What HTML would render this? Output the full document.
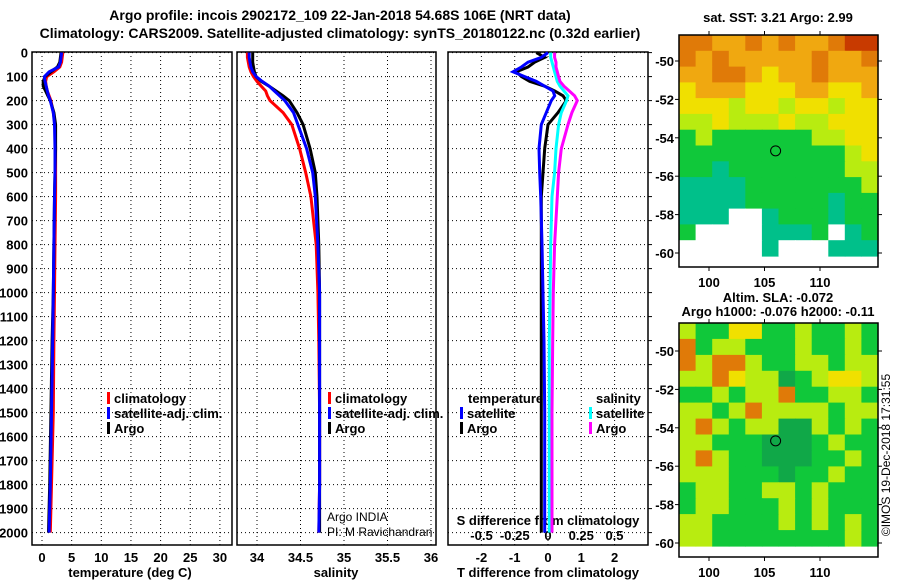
<!DOCTYPE html>
<html><head><meta charset="utf-8"><style>
body{margin:0;background:#fff;}
svg{display:block;font-family:"Liberation Sans",sans-serif;}
.b{font-weight:bold;font-size:13px;}
.t{font-weight:bold;font-size:14px;}
.n{font-weight:normal;font-size:12px;}
</style></head><body>
<svg id="c" width="900" height="580" xmlns="http://www.w3.org/2000/svg"></svg>
<script>
const depths=[0,20,40,60,80,100,120,140,160,180,200,250,300,400,500,600,800,1000,1200,1500,1800,2000];
const argoT=[3.2,3.1,3.0,2.6,1.5,0.5,0.2,0.2,0.6,1.0,1.4,2.0,2.3,2.3,2.2,2.1,2.0,1.9,1.7,1.5,1.3,1.1];
const climT=[3.5,3.4,3.3,3.0,2.0,0.8,0.6,0.7,0.9,1.2,1.5,1.9,2.2,2.3,2.3,2.3,2.2,2.1,2.0,1.9,1.6,1.4];
const satT=[3.3,3.2,3.1,2.8,1.2,0.4,0.5,0.7,0.9,1.1,1.4,1.9,2.1,2.2,2.2,2.1,2.0,1.9,1.8,1.6,1.4,1.2];
const argoS=[33.95,33.95,33.95,33.96,33.97,33.99,34.05,34.14,34.22,34.30,34.37,34.46,34.53,34.61,34.67,34.69,34.71,34.72,34.72,34.72,34.72,34.72];
const climS=[33.89,33.89,33.9,33.91,33.93,33.96,34.0,34.05,34.1,34.12,34.15,34.3,34.40,34.49,34.56,34.62,34.68,34.70,34.71,34.72,34.72,34.71];
const satS=[33.91,33.91,33.92,33.93,33.95,33.99,34.06,34.14,34.2,34.26,34.32,34.42,34.47,34.57,34.64,34.67,34.70,34.72,34.72,34.72,34.72,34.71];
const dTargo=[-0.35,-0.1,-0.4,-0.6,-0.95,-0.8,-0.55,-0.1,0.2,0.45,0.55,0.3,0.0,-0.1,-0.15,-0.2,-0.2,-0.2,-0.2,-0.2,-0.2,-0.2];
const dTsat=[0,-0.2,-0.6,-0.8,-1.05,-0.7,-0.35,-0.1,0.15,0.2,0.1,-0.05,-0.2,-0.27,-0.25,-0.22,-0.18,-0.15,-0.12,-0.1,-0.1,-0.1];
const dSsat=[0.02,0.02,0.03,0.04,0.05,0.06,0.07,0.09,0.12,0.15,0.14,0.1,0.08,0.06,0.05,0.03,0.02,0.015,0.01,0.01,0.01,0.01];
const dSargo=[0.05,0.05,0.06,0.06,0.07,0.08,0.09,0.12,0.16,0.2,0.22,0.18,0.15,0.1,0.08,0.07,0.05,0.04,0.035,0.03,0.03,0.03];
const depthTicks=[0,100,200,300,400,500,600,700,800,900,1000,1100,1200,1300,1400,1500,1600,1700,1800,1900,2000];
const tempTicks=[0,5,10,15,20,25,30];
const salTicks=[34,34.5,35,35.5,36];
const tdTicks=[-2,-1,0,1,2];
const sdTicks=[-0.5,-0.25,0,0.25,0.5];
const latTicks=[-50,-52,-54,-56,-58,-60];
const lonTicks=[100,105,110];
const sstGrid=["OOooOoOooORR","OoOoooooOooO","ooOOoYooOooo","YoooYYYooYYo","YYYyYYyYYyYY","yyYyyyYyyYYY","GyGGGGGGyyYY","GGGGGGGGGGyY","GGTGGGGGGGyy","TTTTGGGGGGGy","TTTTGGGGGTGG","TTTWWTGGGTGG","GWWWWTTTGWTG","WWWWWTWWWTTT"];
const slaGrid=["yGGYYGGyGGyG","OGyyGGGyGGyG","OyOOyGGyyGyy","yyOYyygGyYYy","GGyGyyOGGyyG","yyGyOyyyyGyy","yOyGyyggyGyG","yyGGGgggGyGG","yOyGGgggGGyG","yyyGGGgGGyGG","GyyGGyyGyGGG","GyyGGGyGyGGG","yyGGGGyGyGyG","yyGGGGGGGGyG"];
const cmap={R:"#c83a00",O:"#e07a08",o:"#f0a810",Y:"#f0e000",y:"#b8ec10",G:"#10c83a",g:"#10a848",T:"#00c08a",W:"#ffffff"};

const svg=document.getElementById('c');const NS="http://www.w3.org/2000/svg";
function mk(tag,at,parent){const e=document.createElementNS(NS,tag);for(const k in at)e.setAttribute(k,at[k]);(parent||svg).appendChild(e);return e;}
function txt(x,y,s,cls,anchor,name){const e=mk('text',{x:x,y:y,class:cls,'text-anchor':anchor||'start'});e.textContent=s;


return e;}
const Y=d=>52.6+0.24*d;
const Y0=52, Y1=545;
const xT=t=>42+5.93*t, xS=s=>257+87*(s-34), xdT=t=>548+33.3*t, xdS=s=>548+133*s;

function panel(x0,x1,name,vals,xf){
  const g=mk('g',{});
  
  
  vals.forEach(v=>{mk('line',{x1:xf(v),x2:xf(v),y1:Y0,y2:Y1,stroke:'#000','stroke-dasharray':'1,3'},g);});
  depthTicks.forEach(d=>{mk('line',{x1:x0,x2:x1,y1:Y(d),y2:Y(d),stroke:'#000','stroke-dasharray':'1,3'},g);});
  const r=mk('rect',{x:x0,y:Y0,width:x1-x0,height:Y1-Y0,fill:'none',stroke:'#000','stroke-width':1.5},g);
  
  
  return g;
}
function line(arr,xf,col,name){const pts=arr.map((v,i)=>xf(v).toFixed(1)+','+Y(depths[i]).toFixed(1)).join(' ');
const p=mk('polyline',{points:pts,fill:'none',stroke:col,'stroke-width':3,'stroke-linejoin':'miter'});

}

txt(340,20,"Argo profile: incois 2902172_109 22-Jan-2018 54.68S 106E (NRT data)",'t','middle','title-line-1');
txt(340,38,"Climatology: CARS2009. Satellite-adjusted climatology: synTS_20180122.nc (0.32d earlier)",'t','middle','title-line-2');

panel(32,232,'temperature-panel',tempTicks,xT);
panel(237,436,'salinity-panel',salTicks,xS);
panel(448,648,'difference-panel',tdTicks,xdT);
depthTicks.forEach(d=>{txt(28,Y(d)+5,String(d),'b','end','depth-tick');
 mk('line',{x1:648,x2:652,y1:Y(d),y2:Y(d),stroke:'#000'});});
tempTicks.forEach(v=>txt(xT(v),562,String(v),'b','middle','temp-tick'));
salTicks.forEach(v=>txt(xS(v),562,String(v),'b','middle','sal-tick'));
tdTicks.forEach(v=>txt(xdT(v),562,String(v),'b','middle','tdiff-tick'));
sdTicks.forEach(v=>txt(xdS(v),540,String(v),'b','middle','sdiff-tick'));
txt(130,577,"temperature (deg C)",'b','middle','x-axis-title-temperature');
txt(336,577,"salinity",'b','middle','x-axis-title-salinity');
txt(548,577,"T difference from climatology",'b','middle','x-axis-title-tdiff');
txt(548,525,"S difference from climatology",'b','middle','sdiff-axis-title');

line(climT,xT,'#f00','temp-climatology-line');line(argoT,xT,'#000','temp-argo-line');line(satT,xT,'#00f','temp-satellite-line');
line(climS,xS,'#f00','sal-climatology-line');line(argoS,xS,'#000','sal-argo-line');line(satS,xS,'#00f','sal-satellite-line');
line(dTargo,xdT,'#000','tdiff-argo-line');line(dTsat,xdT,'#00f','tdiff-satellite-line');
line(dSsat,xdS,'#0ff','sdiff-satellite-line');line(dSargo,xdS,'#f0f','sdiff-argo-line');

function leg(x,y,col,s,name){const r=mk('rect',{x:x,y:y-11,width:3,height:12,fill:col});


txt(x+7,y,s,'b','start',name);}
leg(107,403,'#f00','climatology','legend-climatology');
leg(107,418,'#00f','satellite-adj. clim.','legend-satellite');
leg(107,433,'#000','Argo','legend-argo');
leg(328,403,'#f00','climatology','legend2-climatology');
leg(328,418,'#00f','satellite-adj. clim.','legend2-satellite');
leg(328,433,'#000','Argo','legend2-argo');
txt(468,403,'temperature','b','start','legend-temperature-header');
txt(596,403,'salinity','b','start','legend-salinity-header');
leg(460,418,'#00f','satellite','legend-t-satellite');
leg(460,433,'#000','Argo','legend-t-argo');
leg(589,418,'#0ff','satellite','legend-s-satellite');
leg(589,433,'#f0f','Argo','legend-s-argo');
txt(327,521,'Argo INDIA','n','start','credit-argo-india');
txt(327,536,'PI: M Ravichandran','n','start','credit-pi');

function map(top,dataBot,bot,grid,name,latLab){
  const x0=679,x1=878;
  const g=mk('g',{});
  
  
  const rows=grid.length,cols=grid[0].length,cw=(x1-x0)/cols,ch=(dataBot-top)/rows;
  grid.forEach((row,r)=>{for(let c=0;c<cols;c++){const cell=mk('rect',{x:(x0+c*cw).toFixed(1),y:(top+r*ch).toFixed(1),width:(cw+0.6).toFixed(1),height:(ch+0.6).toFixed(1),fill:cmap[row[c]]},g);
  
  }});
  const lx=lon=>709+11.1*(lon-100), ly=lat=>latLab+19.2*(-50-lat);
  mk('rect',{x:x0,y:top,width:x1-x0,height:bot-top,fill:'none',stroke:'#000','stroke-width':1.5},g);
  lonTicks.forEach(v=>{mk('line',{x1:lx(v),x2:lx(v),y1:top-4,y2:top,stroke:'#000'},g);mk('line',{x1:lx(v),x2:lx(v),y1:bot,y2:bot+4,stroke:'#000'},g);
   txt(lx(v),bot+20,String(v),'b','middle','lon-tick');});
  latTicks.forEach(v=>{mk('line',{x1:x1,x2:x1+4,y1:ly(v),y2:ly(v),stroke:'#000'},g);mk('line',{x1:x0-4,x2:x0,y1:ly(v),y2:ly(v),stroke:'#000'},g);
   txt(674,ly(v)+5,String(v),'b','end','lat-tick');});
  const c=mk('circle',{cx:lx(106),cy:ly(-54.68),r:5,fill:'none',stroke:'#000'},g);
  
  
}
map(35,256,267,sstGrid,'sst-map',61);
map(323,546,557,slaGrid,'sla-map',351);
txt(778,22,'sat. SST: 3.21 Argo: 2.99','b','middle','sst-map-title');
txt(778,302,'Altim. SLA: -0.072','b','middle','sla-map-title');
txt(778,316,'Argo h1000: -0.076 h2000: -0.11','b','middle','sla-map-subtitle');
const v=txt(0,0,'©IMOS 19-Dec-2018 17:31:55','n','middle','imos-timestamp');
v.setAttribute('transform','translate(890,455) rotate(-90)');
</script>
</body></html>
